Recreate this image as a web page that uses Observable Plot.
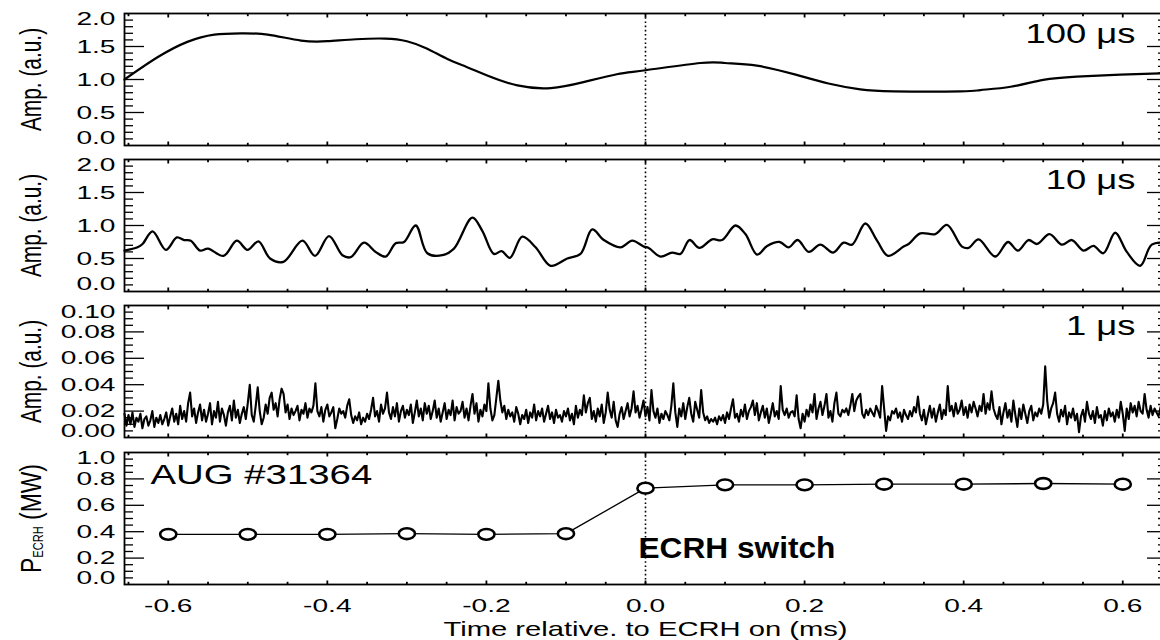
<!DOCTYPE html>
<html><head><meta charset="utf-8">
<script src="https://cdn.jsdelivr.net/npm/d3@7"></script>
<script src="https://cdn.jsdelivr.net/npm/@observablehq/plot@0.6"></script>
<style>
html,body{margin:0;padding:0;background:#fff;overflow:hidden;}
#chart{position:relative;width:1160px;height:640px;overflow:hidden;background:#fff;}
#chart svg{position:absolute;left:0;max-width:none !important;overflow:visible;}
</style></head>
<body><div id="chart"></div>
<script>
// ---------------- data ----------------
const xDomain = [-0.655, 0.655];
const xMajor = [-0.6, -0.4, -0.2, 0.0, 0.2, 0.4, 0.6];
const xMinor = [-0.65,-0.55,-0.5,-0.45,-0.35,-0.3,-0.25,-0.15,-0.1,-0.05,0.05,0.1,0.15,0.25,0.3,0.35,0.45,0.5,0.55,0.65];

const ampMajor = [0.5, 1.0, 1.5];
const ampMinor = [0.1,0.2,0.3,0.4,0.6,0.7,0.8,0.9,1.1,1.2,1.3,1.4,1.6,1.7,1.8,1.9];
const ampLabels = [0.0, 0.5, 1.0, 1.5, 2.0];
const amp1Major = [0.02, 0.04, 0.06, 0.08];
const amp1Minor = [0.005,0.01,0.015,0.025,0.03,0.035,0.045,0.05,0.055,0.065,0.07,0.075,0.085,0.09,0.095];
const amp1Labels = [0.00, 0.02, 0.04, 0.06, 0.08, 0.10];
const powMajor = [0.2, 0.4, 0.6, 0.8];
const powMinor = [0.05,0.1,0.15,0.25,0.3,0.35,0.45,0.5,0.55,0.65,0.7,0.75,0.85,0.9,0.95];
const powLabels = [0.0, 0.2, 0.4, 0.6, 0.8, 1.0];

// 100 us window
const t100 = [-0.655,-0.613,-0.576,-0.542,-0.508,-0.475,-0.433,-0.40,-0.364,-0.327,-0.30,-0.275,-0.249,-0.225,-0.199,-0.161,-0.119,-0.078,-0.036,0.0,0.069,0.10,0.14,0.19,0.23,0.27,0.312,0.396,0.421,0.459,0.50,0.542,0.597,0.655];
const amp100 = [1.00,1.34,1.57,1.68,1.70,1.68,1.59,1.58,1.61,1.62,1.58,1.47,1.31,1.19,1.06,0.91,0.87,0.96,1.08,1.14,1.25,1.25,1.21,1.07,0.94,0.85,0.82,0.82,0.84,0.89,0.995,1.045,1.075,1.095];

// 10 us window
const t10 = [-0.655,-0.6386,-0.6323,-0.6197,-0.603,-0.5892,-0.580,-0.5716,-0.560,-0.550,-0.5305,-0.5138,-0.5004,-0.4866,-0.472,-0.4552,-0.4313,-0.4155,-0.3979,-0.381,-0.3706,-0.3539,-0.3392,-0.3266,-0.3141,-0.3036,-0.2889,-0.2743,-0.2554,-0.2408,-0.2177,-0.2052,-0.1906,-0.1809,-0.1705,-0.1549,-0.1382,-0.1193,-0.0984,-0.0817,-0.067,-0.0524,-0.0314,-0.0167,-0.002,0.004,0.0188,0.0335,0.044,0.0553,0.0678,0.0838,0.0963,0.1131,0.1256,0.1403,0.1529,0.1687,0.180,0.1913,0.2052,0.2198,0.2358,0.2491,0.2597,0.2764,0.2911,0.3049,0.3245,0.3308,0.3455,0.3643,0.379,0.3979,0.4062,0.4187,0.4397,0.4557,0.4682,0.4815,0.4921,0.5079,0.5235,0.536,0.5506,0.5632,0.5757,0.5905,0.6051,0.6219,0.6365,0.655];
const amp10 = [0.62,0.67,0.72,0.91,0.63,0.82,0.78,0.77,0.62,0.65,0.54,0.77,0.63,0.76,0.50,0.45,0.77,0.54,0.84,0.55,0.52,0.74,0.60,0.53,0.73,0.75,1.00,0.58,0.55,0.65,1.12,0.92,0.57,0.61,0.51,0.83,0.67,0.39,0.50,0.57,0.94,0.78,0.67,0.77,0.68,0.66,0.53,0.59,0.57,0.78,0.66,0.79,0.78,1.00,0.87,0.56,0.69,0.75,0.67,0.78,0.60,0.71,0.59,0.74,0.71,1.03,0.77,0.54,0.68,0.72,0.88,0.87,1.01,0.68,0.66,0.79,0.53,0.75,0.62,0.78,0.72,0.87,0.71,0.78,0.62,0.69,0.58,0.89,0.60,0.39,0.71,0.74];

// 1 us window: samples every 0.0025 ms from -0.655 ms
const amp1Start = -0.655, amp1Step = 0.0025;
const amp1 = [
.018,.009,.017,.010,.019,.008,.015,.012,.018,.007,.014,.016,.009,.013,.020,.008,.015,.011,.017,.010,
.014,.019,.009,.016,.022,.012,.018,.010,.024,.014,.020,.012,.026,.034,.016,.022,.011,.019,.025,.013,
.021,.012,.018,.026,.010,.020,.015,.027,.012,.022,.017,.009,.019,.024,.013,.028,.015,.021,.011,.018,
.023,.014,.026,.040,.017,.012,.024,.038,.020,.010,.015,.025,.018,.030,.034,.021,.026,.016,.029,.037,
.033,.019,.025,.014,.022,.017,.020,.024,.013,.021,.018,.026,.015,.022,.019,.024,.041,.020,.016,.023,
.012,.021,.025,.016,.019,.023,.007,.014,.022,.018,.020,.015,.024,.029,.017,.011,.016,.013,.019,.010,
.015,.012,.018,.014,.021,.030,.016,.020,.012,.025,.018,.022,.034,.019,.014,.023,.016,.026,.012,.020,
.024,.015,.021,.017,.025,.011,.019,.028,.016,.022,.013,.026,.018,.024,.014,.020,.028,.015,.022,.012,
.019,.026,.014,.021,.017,.028,.013,.023,.018,.020,.027,.015,.022,.013,.024,.033,.018,.026,.012,.021,
.016,.025,.020,.041,.022,.013,.017,.030,.043,.028,.019,.024,.014,.021,.016,.019,.012,.023,.018,.010,
.017,.014,.021,.011,.019,.015,.025,.013,.020,.016,.022,.012,.018,.024,.014,.019,.011,.021,.015,.017,
.012,.020,.016,.022,.013,.018,.010,.024,.015,.021,.017,.032,.019,.026,.030,.014,.020,.012,.022,.016,
.025,.011,.019,.034,.021,.015,.027,.013,.008,.018,.023,.014,.020,.026,.016,.022,.035,.019,.024,.015,
.021,.028,.016,.023,.013,.036,.020,.015,.022,.011,.018,.014,.020,.017,.013,.024,.041,.019,.008,.022,
.016,.026,.014,.023,.030,.018,.012,.027,.021,.015,.036,.019,.013,.016,.011,.014,.012,.015,.010,.016,
.013,.017,.011,.019,.014,.022,.029,.015,.018,.012,.021,.016,.025,.014,.020,.023,.028,.017,.026,.013,
.019,.024,.015,.022,.011,.018,.026,.016,.020,.014,.039,.021,.017,.022,.015,.019,.020,.016,.032,.014,
.007,.018,.012,.021,.016,.025,.019,.033,.014,.022,.027,.017,.024,.033,.015,.020,.012,.026,.034,.018,
.016,.021,.019,.022,.017,.024,.033,.020,.028,.031,.033,.018,.015,.021,.017,.022,.019,.016,.024,.020,
.015,.039,.022,.005,.016,.013,.020,.018,.022,.015,.019,.012,.021,.017,.014,.020,.016,.023,.019,.031,
.018,.013,.021,.010,.017,.024,.015,.022,.012,.019,.025,.014,.021,.017,.039,.020,.024,.016,.026,.018,
.021,.028,.017,.023,.015,.025,.019,.027,.022,.016,.024,.020,.033,.018,.026,.021,.035,.022,.017,.014,
.023,.010,.019,.026,.015,.021,.012,.028,.017,.008,.022,.014,.025,.018,.011,.020,.024,.013,.019,.016,
.022,.018,.025,.054,.028,.015,.022,.026,.034,.018,.012,.021,.016,.024,.010,.019,.015,.022,.013,.018,
.004,.016,.021,.012,.027,.018,.014,.020,.011,.023,.015,.017,.009,.020,.013,.022,.016,.019,.012,.021,
.015,.027,.018,.005,.022,.014,.026,.019,.024,.016,.027,.020,.018,.033,.021,.015,.024,.017,.022,.019,
.016,.023,.018,.021,.019];

// ECRH power
const tEcrh = [-0.6,-0.5,-0.4,-0.3,-0.2,-0.1,0.0,0.1,0.2,0.3,0.4,0.5,0.6];
const pEcrh = [0.38,0.38,0.38,0.385,0.38,0.385,0.73,0.755,0.755,0.76,0.76,0.765,0.76];

const panelTags = ["100 \u03bcs", "10 \u03bcs", "1 \u03bcs"];
const shotLabel = ["AUG #31364"];
const switchLabel = ["ECRH switch"];
const xTitle = ["Time relative. to ECRH on (ms)"];
const ampTitle = ["Amp. (a.u.)"];
const powTitle = ["P", "ECRH", " (MW)"];

// ---------------- tables ----------------
const d100 = t100.map((t, i) => ({t, v: amp100[i]}));
const d10 = t10.map((t, i) => ({t, v: amp10[i]}));
const d1 = amp1.map((v, i) => ({t: amp1Start + i * amp1Step, v}));
const dP = tEcrh.map((t, i) => ({t, p: pEcrh[i]}));

// ---------------- helpers ----------------
const FONT = "'Liberation Sans', Arial, Helvetica, sans-serif";
const fmt1 = d => d.toFixed(1), fmt2 = d => d.toFixed(2);
const INK = "#000";

function yAxisMarks(major, minor, labels, fmt, dyTop, dyBottom) {
  const tick = {fill: "none", stroke: INK, strokeWidth: 1.3, label: null};
  const txt = {anchor: "left", tickSize: 0, tickPadding: 9, tickFormat: fmt, label: null, fill: INK};
  return [
    Plot.axisY(major, {...tick, anchor: "left", tickSize: 20, dx: 20}),
    Plot.axisY(major, {...tick, anchor: "right", tickSize: 20, dx: -20}),
    Plot.axisY(minor, {...tick, anchor: "left", tickSize: 9, dx: 9}),
    Plot.axisY(minor, {...tick, anchor: "right", tickSize: 9, dx: -9}),
    Plot.axisY(labels.slice(1, -1), txt),
    Plot.axisY(labels.slice(-1), {...txt, dy: dyTop}),
    Plot.axisY(labels.slice(0, 1), {...txt, dy: dyBottom})
  ];
}
function xTickMarks() {
  const tick = {fill: "none", stroke: INK, strokeWidth: 1.8, label: null};
  return [
    Plot.axisX(xMajor, {...tick, anchor: "bottom", tickSize: 3.5, dy: -3.5}),
    Plot.axisX(xMajor, {...tick, anchor: "top", tickSize: 3.5, dy: 3.5}),
    Plot.axisX(xMinor, {...tick, anchor: "bottom", tickSize: 2.2, dy: -2.2}),
    Plot.axisX(xMinor, {...tick, anchor: "top", tickSize: 2.2, dy: 2.2})
  ];
}
function tagMark(label) {
  return Plot.text([label], {text: d => d, frameAnchor: "top-right", dx: -31, dy: 29, lineAnchor: "bottom",
    textAnchor: "end", fontSize: 28, fill: INK});
}
function yTitleMark(label) {
  return Plot.text(label, {text: d => Array.isArray(d) ? d.join("") : d, frameAnchor: "left", rotate: -90, dx: -84,
    lineAnchor: "bottom", textAnchor: "middle", fontSize: 29, fill: INK});
}
const ellipse = {draw(ctx, size) {
  const r = Math.sqrt(size / Math.PI), rx = r * 1.5, ry = r, k = 0.5523;
  ctx.moveTo(rx, 0);
  ctx.bezierCurveTo(rx, ry * k, rx * k, ry, 0, ry);
  ctx.bezierCurveTo(-rx * k, ry, -rx, ry * k, -rx, 0);
  ctx.bezierCurveTo(-rx, -ry * k, -rx * k, -ry, 0, -ry);
  ctx.bezierCurveTo(rx * k, -ry, rx, -ry * k, rx, 0);
  ctx.closePath();
}};

const chart = document.getElementById("chart");
function panel({top, mt, mb, yDomain, marks}) {
  const svg = Plot.plot({
    width: 1170, height: mt + 132 + mb,
    marginLeft: 124, marginRight: 4, marginTop: mt, marginBottom: mb,
    style: {fontFamily: FONT, fontSize: "19px", color: INK, background: "transparent"},
    x: {domain: xDomain, axis: null},
    y: {domain: yDomain, axis: null},
    marks
  });
  svg.style.top = top + "px";
  chart.appendChild(svg);
  return svg;
}
const zeroRule = () => Plot.ruleX([0], {stroke: INK, strokeWidth: 1.6, strokeDasharray: "1.6,2.6"});

// ---------------- panels ----------------
panel({top: 0, mt: 13, mb: 7, yDomain: [0, 2], marks: [
  zeroRule(),
  Plot.line(d100, {x: "t", y: "v", curve: "natural", stroke: INK, strokeWidth: 2.2}),
  Plot.frame({stroke: INK, strokeWidth: 1.8}),
  ...xTickMarks(),
  ...yAxisMarks(ampMajor, ampMinor, ampLabels, fmt1, 5, -8),
  tagMark(panelTags[0]),
  yTitleMark(ampTitle)
]});
panel({top: 152, mt: 7, mb: 7, yDomain: [0, 2], marks: [
  zeroRule(),
  Plot.line(d10, {x: "t", y: "v", curve: "catmull-rom", stroke: INK, strokeWidth: 2.3}),
  Plot.frame({stroke: INK, strokeWidth: 1.8}),
  ...xTickMarks(),
  ...yAxisMarks(ampMajor, ampMinor, ampLabels, fmt1, 5, -8),
  tagMark(panelTags[1]),
  yTitleMark(ampTitle)
]});
panel({top: 298, mt: 7, mb: 8, yDomain: [0, 0.1], marks: [
  zeroRule(),
  Plot.line(d1, {x: "t", y: "v", stroke: INK, strokeWidth: 2.1}),
  Plot.frame({stroke: INK, strokeWidth: 1.8}),
  ...xTickMarks(),
  ...yAxisMarks(amp1Major, amp1Minor, amp1Labels, fmt2, 6, -7),
  tagMark(panelTags[2]),
  yTitleMark(ampTitle)
]});
panel({top: 445, mt: 7, mb: 56, yDomain: [0, 1], marks: [
  zeroRule(),
  Plot.line(dP, {x: "t", y: "p", stroke: INK, strokeWidth: 1.3}),
  Plot.dot(dP, {x: "t", y: "p", r: 5.4, symbol: ellipse, stroke: INK, strokeWidth: 2.6, fill: "#fff"}),
  Plot.frame({stroke: INK, strokeWidth: 1.8}),
  ...xTickMarks(),
  ...yAxisMarks(powMajor, powMinor, powLabels, fmt1, 5, -7),
  Plot.axisX(xMajor, {anchor: "bottom", tickSize: 0, tickPadding: 14, tickFormat: fmt1, label: null, fill: INK}),
  Plot.text(shotLabel, {text: d => d, frameAnchor: "top-left", dx: 26, dy: 31, lineAnchor: "bottom",
    textAnchor: "start", fontSize: 28, fill: INK}),
  Plot.text(switchLabel, {text: d => d, x: 0, y: 0.2, dx: -7, lineAnchor: "bottom", textAnchor: "start",
    fontSize: 30, fontWeight: "bold", fill: INK}),
  Plot.text(xTitle, {text: d => d, frameAnchor: "bottom", dy: 51, lineAnchor: "bottom", textAnchor: "middle",
    fontSize: 21, fill: INK}),
  yTitleMark([powTitle])
]});

// ---------------- text shaping (subscript + horizontal glyph stretch) ----------------
const ns = "http://www.w3.org/2000/svg";
const powFull = powTitle.join("");
const texts = Array.from(chart.querySelectorAll("text"));
texts.forEach(t => {
  if (t.textContent === powFull) {
    t.textContent = powTitle[0];
    const sub = document.createElementNS(ns, "tspan");
    sub.setAttribute("font-size", "14"); sub.setAttribute("dy", "2"); sub.textContent = powTitle[1];
    const unit = document.createElementNS(ns, "tspan");
    unit.setAttribute("dy", "-2"); unit.textContent = powTitle[2];
    t.appendChild(sub); t.appendChild(unit);
    t.setAttribute("data-kind", "ptitle");
  }
});
function factorFor(t) {
  const s = t.textContent.trim();
  if (t.getAttribute("data-kind") === "ptitle") return 0.79;
  if (/^[-\u2212]?\d+\.\d+$/.test(s)) return 1.48;
  if (panelTags.includes(s)) return 1.3;
  if (s === shotLabel[0]) return 1.37;
  if (s === switchLabel[0]) return 1.055;
  if (s === xTitle[0]) return 1.39;
  if (s === ampTitle[0]) return 0.72;
  return null;
}
const isNum = v => v != null && /^-?[\d.]+$/.test(v);
texts.forEach(t => {
  const f = factorFor(t);
  if (f == null) return;
  let tr = t.getAttribute("transform") || "";
  const xa = t.getAttribute("x"), ya = t.getAttribute("y");
  let tx = 0, ty = 0;
  if (isNum(xa)) { tx = +xa; t.removeAttribute("x"); }
  if (isNum(ya)) { ty = +ya; t.removeAttribute("y"); }
  const pre = (tx || ty) ? `translate(${tx},${ty}) ` : "";
  t.setAttribute("transform", `${pre}${tr} scale(${f},1)`.trim());
});
</script>
</body></html>
